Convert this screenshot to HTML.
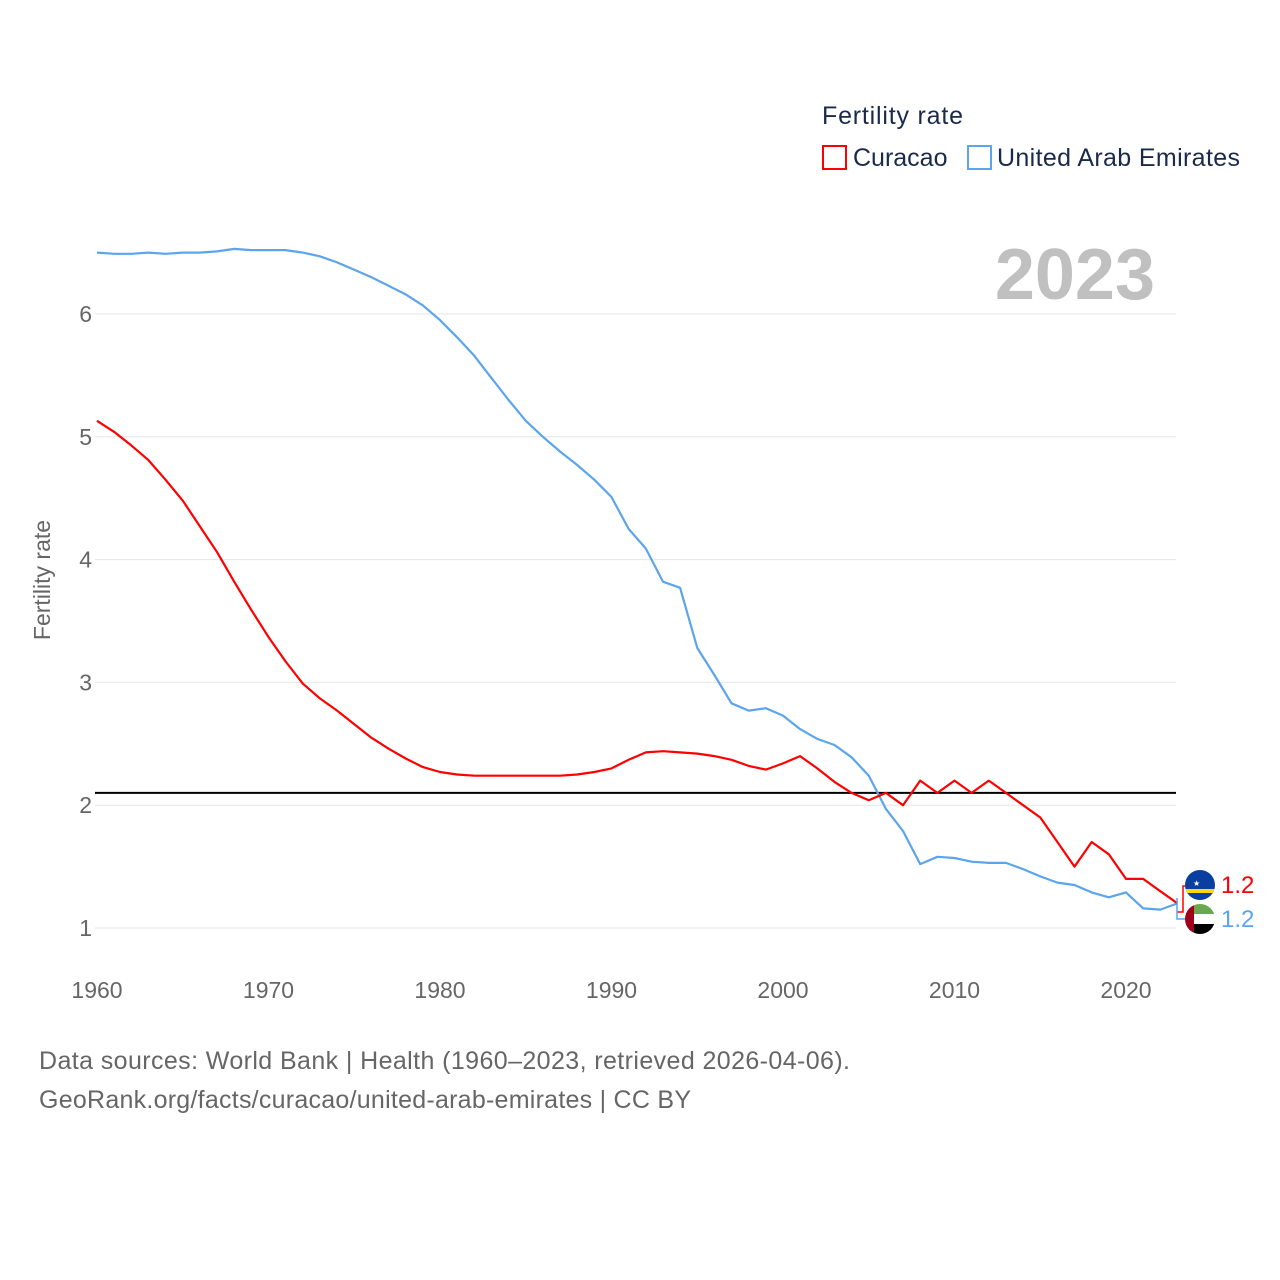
<!DOCTYPE html>
<html><head><meta charset="utf-8"><style>
body{margin:0;background:#fff;font-family:"Liberation Sans",sans-serif}
svg{display:block}
</style></head><body>
<svg id="chart" width="1280" height="1280">
<text x="822" y="124" font-size="25" fill="#1a2a4a" textLength="141">Fertility rate</text>
<g>
<rect x="823" y="146" width="23" height="23" fill="none" stroke="#f00" stroke-width="2"/>
<text x="853" y="166" font-size="25" fill="#1a2a4a">Curacao</text></g>
<g>
<rect x="968" y="146" width="23" height="23" fill="none" stroke="#5aa5ec" stroke-width="2"/>
<text x="997" y="166" font-size="25" fill="#1a2a4a" textLength="243">United Arab Emirates</text></g>
<text x="1155" y="299" font-size="72" font-weight="bold" fill="#c0c0c0" text-anchor="end">2023</text>
<text transform="translate(50,580) rotate(-90)" font-size="23" fill="#666" text-anchor="middle">Fertility rate</text>
<g id="grid"></g><g id="series"></g>
<g>
<path d="M1177,912 L1183,912 L1183,886 L1189,886" fill="none" stroke="#f00" stroke-width="1.5"/>
<path d="M1177,898 L1177,919 L1189,919" fill="none" stroke="#5aa5ec" stroke-width="1.5"/>
<g><clipPath id="c1"><circle cx="1200" cy="885" r="15"/></clipPath>
<g clip-path="url(#c1)"><rect x="1185" y="870" width="30" height="30" fill="#0a3fa0"/><rect x="1185" y="889" width="30" height="4" fill="#f9d90f"/></g>
<text x="1193" y="886" font-size="8" fill="#fff">★</text></g>
<g><clipPath id="c2"><circle cx="1200" cy="919" r="15"/></clipPath>
<g clip-path="url(#c2)"><rect x="1185" y="904" width="30" height="10" fill="#6aa84f"/><rect x="1185" y="914" width="30" height="10" fill="#fff"/><rect x="1185" y="924" width="30" height="11" fill="#000"/><rect x="1185" y="904" width="9" height="31" fill="#a0001a"/></g></g>
<text x="1221" y="893" font-size="24" fill="#f00">1.2</text>
<text x="1221" y="927" font-size="24" fill="#5aa5ec">1.2</text>
</g>
<text x="39" y="1069" font-size="25" fill="#666" textLength="811">Data sources: World Bank | Health (1960–2023, retrieved 2026-04-06).</text>
<text x="39" y="1108" font-size="25" fill="#666" textLength="652">GeoRank.org/facts/curacao/united-arab-emirates | CC BY</text>
</svg>
<script>
const years=[];for(let y=1960;y<=2023;y++)years.push(y);
const curacao=[5.13,5.04,4.93,4.81,4.65,4.48,4.27,4.06,3.82,3.59,3.37,3.17,2.99,2.87,2.77,2.66,2.55,2.46,2.38,2.31,2.27,2.25,2.24,2.24,2.24,2.24,2.24,2.24,2.25,2.27,2.30,2.37,2.43,2.44,2.43,2.42,2.40,2.37,2.32,2.29,2.34,2.40,2.30,2.19,2.10,2.04,2.10,2.00,2.20,2.10,2.20,2.10,2.20,2.10,2.00,1.90,1.70,1.50,1.70,1.60,1.40,1.40,1.30,1.20];
const uae=[6.50,6.49,6.49,6.50,6.49,6.50,6.50,6.51,6.53,6.52,6.52,6.52,6.50,6.47,6.42,6.36,6.30,6.23,6.16,6.07,5.95,5.81,5.66,5.48,5.30,5.13,5.00,4.88,4.77,4.65,4.51,4.25,4.09,3.82,3.77,3.28,3.06,2.83,2.77,2.79,2.73,2.62,2.54,2.49,2.39,2.24,1.97,1.79,1.52,1.58,1.57,1.54,1.53,1.53,1.48,1.42,1.37,1.35,1.29,1.25,1.29,1.16,1.15,1.20];
const yTicks=[1,2,3,4,5,6];
const xTicks=[1960,1970,1980,1990,2000,2010,2020];
const replacement=2.1;
const X=y=>97+(y-1960)*(1126-97)/60;
const Y=v=>928-(v-1)*(928-314)/5;
const NS="http://www.w3.org/2000/svg";
const grid=document.getElementById('grid'),ser=document.getElementById('series');
function mk(tag,attrs,parent){const e=document.createElementNS(NS,tag);for(const k in attrs)e.setAttribute(k,attrs[k]);parent.appendChild(e);return e;}
yTicks.forEach(t=>{
 const l=mk('line',{x1:95,x2:1176,y1:Y(t),y2:Y(t),stroke:'#e6e6e6','stroke-width':1},grid);
 
 
 const tx=mk('text',{x:92,y:Y(t)+8,'font-size':23,fill:'#666','text-anchor':'end'},grid);
 tx.textContent=t;
 
 
});
xTicks.forEach(t=>{
 const tx=mk('text',{x:X(t),y:998,'font-size':23,fill:'#666','text-anchor':'middle'},grid);
 tx.textContent=t;
 
 
});
const rl=mk('line',{x1:95,x2:1176,y1:Y(replacement),y2:Y(replacement),stroke:'#000','stroke-width':2},grid);


function line(vals,color,name){
 const d=vals.map((v,i)=>(i?'L':'M')+X(years[i]).toFixed(1)+','+Y(v).toFixed(1)).join('');
 const p=mk('path',{d:d,fill:'none',stroke:color,'stroke-width':2.2,'stroke-linejoin':'round'},ser);
 
 
}
line(uae,'#5aa5ec','uae-line');
line(curacao,'#f00','curacao-line');
</script>
</body></html>
